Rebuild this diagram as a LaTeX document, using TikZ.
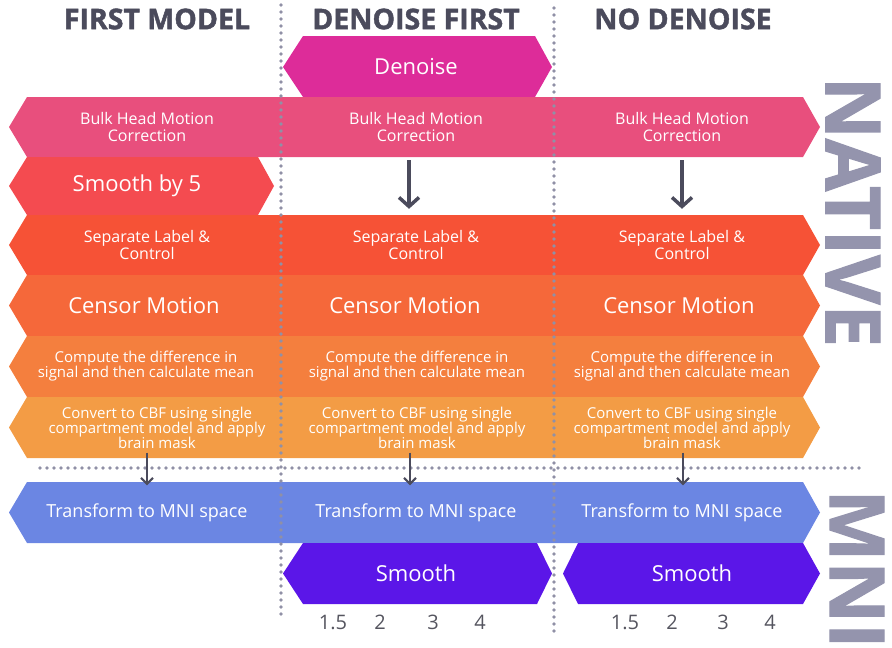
\documentclass[tikz,border=0pt]{standalone}
\usepackage{fontspec}
\setmainfont{Open Sans}
\newfontfamily\headfont{Open Sans}[BoldFeatures={FakeBold=1.5}]
\usetikzlibrary{arrows.meta}

\definecolor{headcol}{HTML}{4B4B5C}
\definecolor{sidecol}{HTML}{9494AD}
\definecolor{dotcol}{HTML}{9090A6}
\definecolor{numcol}{HTML}{55555F}
\definecolor{denoisecol}{HTML}{DD2C99}
\definecolor{bulkcol}{HTML}{E84F7D}
\definecolor{smoothfivecol}{HTML}{F44B50}
\definecolor{sepcol}{HTML}{F65236}
\definecolor{censorcol}{HTML}{F5683A}
\definecolor{computecol}{HTML}{F47F3E}
\definecolor{convertcol}{HTML}{F39C45}
\definecolor{mnicol}{HTML}{6B86E3}
\definecolor{smoothcol}{HTML}{5B16E8}

\tikzset{
  cell/.style={minimum width=250pt, minimum height=60pt, inner sep=0pt, align=center,
    text=white, font=\fontsize{16}{17}\selectfont},
  bigcell/.style={cell, font=\fontsize{22}{24}\selectfont},
  midcell/.style={cell, font=\fontsize{18}{19}\selectfont},
  smallcell/.style={cell, font=\fontsize{15}{15}\selectfont},
  header/.style={text=headcol, font=\headfont\fontsize{28.5}{28.5}\selectfont\bfseries},
  side/.style={text=sidecol, rotate=-90, font=\headfont\fontsize{76}{76}\selectfont\bfseries},
  num/.style={text=numcol, font=\fontsize{20}{20}\selectfont},
  dots/.style={dotcol, line width=3.8pt, line cap=round, dash pattern=on 0pt off 7pt},
  bigarrow/.style={headcol, line width=3.5pt, -{Straight Barb[length=9pt,width=20pt]}},
  smallarrow/.style={headcol, line width=2pt, -{Straight Barb[length=6pt,width=12pt]}}
}

\begin{document}
\begin{tikzpicture}[y=-1pt, x=1pt]
    \useasboundingbox (0,0) rectangle (892,648);

    \fill[denoisecol] (283,67) -- (303,36) -- (535,36) -- (552,67) -- (535,97) -- (303,97) -- cycle;
    \fill[bulkcol] (9,127) -- (27,97) -- (803,97) -- (820,127) -- (803,157) -- (27,157) -- cycle;
    \fill[smoothfivecol] (9,186) -- (27,157) -- (258,157) -- (274,186) -- (258,215) -- (27,215) -- cycle;
    \fill[sepcol] (9,245) -- (27,215) -- (803,215) -- (820,245) -- (803,275) -- (27,275) -- cycle;
    \fill[censorcol] (9,305.5) -- (27,275) -- (803,275) -- (820,305.5) -- (803,336) -- (27,336) -- cycle;
    \fill[computecol] (9,366.5) -- (27,336) -- (803,336) -- (820,366.5) -- (803,397) -- (27,397) -- cycle;
    \fill[convertcol] (9,427.5) -- (27,397) -- (803,397) -- (820,427.5) -- (803,458) -- (27,458) -- cycle;
    \fill[mnicol] (9,512.5) -- (27,482) -- (803,482) -- (820,512.5) -- (803,543) -- (27,543) -- cycle;
    \fill[smoothcol] (283,573.5) -- (303,543) -- (537,543) -- (552,573.5) -- (537,604) -- (303,604) -- cycle;
    \fill[smoothcol] (563,573.5) -- (578,543) -- (803,543) -- (820,573.5) -- (803,604) -- (578,604) -- cycle;

    \draw[dots] (281,5) -- (281,618);
    \draw[dots] (554,8) -- (554,632);
    \draw[dots] (40,468) -- (862,468);

    \node[header] (hdA) at (157,19) {FIRST MODEL};
    \node[header] (hdB) at (416,19) {DENOISE FIRST};
    \node[header] (hdC) at (683,19) {NO DENOISE};

    \node[bigcell] (denoiseB) at (416,67) {Denoise};

    \node[cell] (bulkA) at (147,127) {Bulk Head Motion\\Correction};
    \node[cell] (bulkB) at (416,127) {Bulk Head Motion\\Correction};
    \node[cell] (bulkC) at (682,127) {Bulk Head Motion\\Correction};

    \node[bigcell] (smoothfiveA) at (137,186) {Smooth by 5};

    \node[cell] (sepA) at (147,245) {Separate Label \&\\Control};
    \node[cell] (sepB) at (416,245) {Separate Label \&\\Control};
    \node[cell] (sepC) at (682,245) {Separate Label \&\\Control};

    \node[bigcell] (censorA) at (144,305.5) {Censor Motion};
    \node[bigcell] (censorB) at (405,305.5) {Censor Motion};
    \node[bigcell] (censorC) at (679,305.5) {Censor Motion};

    \node[smallcell] (compA) at (146,366.5) {Compute the difference in\\signal and then calculate mean};
    \node[smallcell] (compB) at (417,366.5) {Compute the difference in\\signal and then calculate mean};
    \node[smallcell] (compC) at (682,366.5) {Compute the difference in\\signal and then calculate mean};

    \node[smallcell] (convA) at (157,427.5) {Convert to CBF using single\\compartment model and apply\\brain mask};
    \node[smallcell] (convB) at (417,427.5) {Convert to CBF using single\\compartment model and apply\\brain mask};
    \node[smallcell] (convC) at (682,427.5) {Convert to CBF using single\\compartment model and apply\\brain mask};

    \node[midcell] (mniA) at (147,512.5) {Transform to MNI space};
    \node[midcell] (mniB) at (416,512.5) {Transform to MNI space};
    \node[midcell] (mniC) at (682,512.5) {Transform to MNI space};

    \node[bigcell] (smoothB) at (416,573.5) {Smooth};
    \node[bigcell] (smoothC) at (692,573.5) {Smooth};

    \node[num] (kernB1) at (333,622) {1.5};
    \node[num] (kernB2) at (380,622) {2};
    \node[num] (kernB3) at (433,622) {3};
    \node[num] (kernB4) at (480,622) {4};
    \node[num] (kernC1) at (625,622) {1.5};
    \node[num] (kernC2) at (672,622) {2};
    \node[num] (kernC3) at (723,622) {3};
    \node[num] (kernC4) at (770,622) {4};

    \draw[bigarrow] ([xshift=-7pt,yshift=-3pt]bulkB.south) -- ([xshift=-7pt,yshift=6pt]sepB.north);
    \draw[bigarrow] ([yshift=-3pt]bulkC.south) -- ([yshift=6pt]sepC.north);

    \draw[smallarrow] ([xshift=-10pt,yshift=5pt]convA.south) -- ([yshift=-3pt]mniA.north);
    \draw[smallarrow] ([xshift=-7pt,yshift=5pt]convB.south) -- ([xshift=-6pt,yshift=-3pt]mniB.north);
    \draw[smallarrow] ([xshift=1pt,yshift=5pt]convC.south) -- ([xshift=1pt,yshift=-3pt]mniC.north);

    \node[side] (native) at (853,212) {NATIVE};
    \node[side] (mnilabel) at (857,569) {MNI};

  \end{tikzpicture}
\end{document}
